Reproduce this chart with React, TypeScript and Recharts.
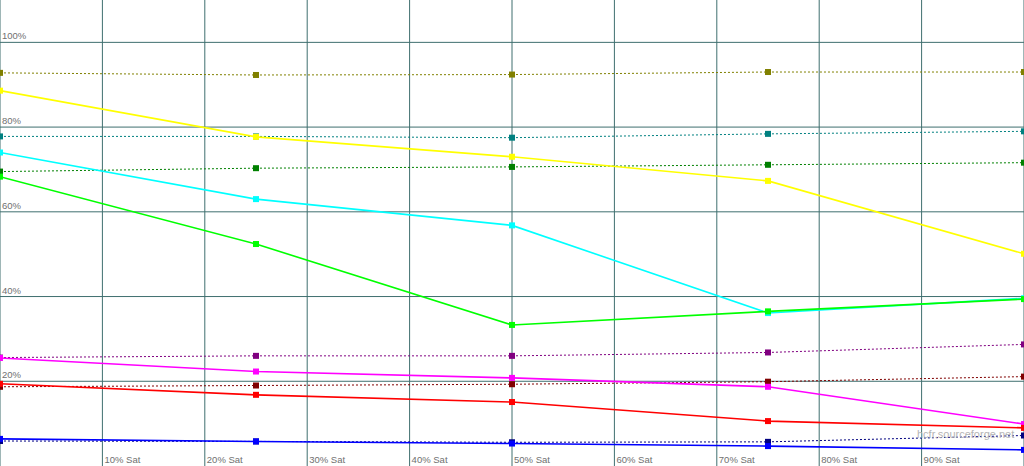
import { LineChart, Line, XAxis, YAxis, CartesianGrid } from "recharts";

// saturation steps measured (x axis, % Sat)
const saturation = [0, 25, 50, 75, 100];

// measured luminance per primary / secondary (solid)
const yellow = [88.6, 77.7, 73.0, 67.3, 50.1];
const cyan = [74.0, 63.0, 56.8, 36.1, 39.6];
const green = [68.3, 52.4, 33.3, 36.5, 39.4];
const magenta = [25.5, 22.3, 20.8, 18.7, 9.9];
const red = [19.4, 16.8, 15.1, 10.6, 9.0];
const blue = [6.4, 5.8, 5.3, 4.7, 3.8];

// reference values (dotted)
const yellowRef = [92.8, 92.3, 92.4, 93.0, 93.0];
const cyanRef = [77.8, 77.8, 77.5, 78.4, 79.0];
const greenRef = [69.5, 70.3, 70.6, 71.1, 71.6];
const magentaRef = [25.6, 26.0, 26.0, 26.8, 28.7];
const redRef = [18.7, 19.0, 19.3, 19.9, 21.1];
const blueRef = [5.9, 5.8, 5.6, 5.7, 7.2];

const xTicks = [0, 10, 20, 30, 40, 50, 60, 70, 80, 90, 100];
const yTicks = [0, 20, 40, 60, 80, 100];
const yGrid = [20, 40, 60, 80, 100];

const data = saturation.map((s, i) => ({
    sat: s,
    yellow: yellow[i],
    cyan: cyan[i],
    green: green[i],
    magenta: magenta[i],
    red: red[i],
    blue: blue[i],
    yellowRef: yellowRef[i],
    cyanRef: cyanRef[i],
    greenRef: greenRef[i],
    magentaRef: magentaRef[i],
    redRef: redRef[i],
    blueRef: blueRef[i],
}));

const refSeries = [
    { key: "yellowRef", color: "#808000" },
    { key: "cyanRef", color: "#008080" },
    { key: "greenRef", color: "#008000" },
    { key: "magentaRef", color: "#800080" },
    { key: "redRef", color: "#800000" },
    { key: "blueRef", color: "#000080" },
];

const mainSeries = [
    { key: "yellow", color: "#ffff00" },
    { key: "cyan", color: "#00ffff" },
    { key: "green", color: "#00ff00" },
    { key: "magenta", color: "#ff00ff" },
    { key: "red", color: "#ff0000" },
    { key: "blue", color: "#0000ff" },
];

const labelFont = "'Liberation Sans', Arial, sans-serif";

const squareDot = (color: string) => (props: any) => (
    <rect
        key={props.index}
        x={props.cx - 3}
        y={props.cy - 3}
        width={6}
        height={6}
        fill={color}
    />
);

const XTick = (props: any) => {
    const v = props.payload.value;
    if (v === 0 || v === 100) return <g />;
    return (
        <text x={props.x + 2} y={463} fontSize={9.5} fill="#707070" fontFamily={labelFont}>
            {v}% Sat
        </text>
    );
};

const YTick = (props: any) => {
    const v = props.payload.value;
    if (v === 0) return <g />;
    return (
        <text x={2} y={props.y - 3} fontSize={9.5} fill="#707070" fontFamily={labelFont}>
            {v}%
        </text>
    );
};

export default function App() {
    return (
        <div style={{ position: "fixed", top: 0, left: 0, width: 1024, height: 466, background: "#fff" }}>
            <LineChart
                width={1024}
                height={466}
                data={data}
                margin={{ top: 0, right: 0, left: 0, bottom: 0 }}
            >
                <CartesianGrid
                    stroke="#3f6f6f"
                    strokeWidth={1}
                    horizontalValues={yGrid}
                    verticalValues={xTicks}
                />
                <XAxis
                    dataKey="sat"
                    type="number"
                    domain={[0, 100]}
                    ticks={xTicks}
                    mirror
                    axisLine={false}
                    tickLine={false}
                    tick={(p: any) => <XTick {...p} />}
                    interval={0}
                />
                <YAxis
                    type="number"
                    domain={[0, 110]}
                    ticks={yTicks}
                    mirror
                    axisLine={false}
                    tickLine={false}
                    tick={(p: any) => <YTick {...p} />}
                    interval={0}
                />
                {refSeries.map((s) => (
                    <Line
                        key={s.key}
                        dataKey={s.key}
                        type="linear"
                        stroke={s.color}
                        strokeWidth={1}
                        strokeDasharray="2 2"
                        dot={squareDot(s.color)}
                        activeDot={false}
                        isAnimationActive={false}
                    />
                ))}
                {mainSeries.map((s) => (
                    <Line
                        key={s.key}
                        dataKey={s.key}
                        type="linear"
                        stroke={s.color}
                        strokeWidth={1.6}
                        dot={squareDot(s.color)}
                        activeDot={false}
                        isAnimationActive={false}
                    />
                ))}
            </LineChart>
            <div
                style={{
                    position: "absolute",
                    left: 917,
                    top: 428,
                    fontFamily: labelFont,
                    fontSize: 11,
                    color: "#b4b4b4",
                    pointerEvents: "none",
                    whiteSpace: "nowrap",
                }}
            >
                hcfr.sourceforge.net
            </div>
        </div>
    );
}
